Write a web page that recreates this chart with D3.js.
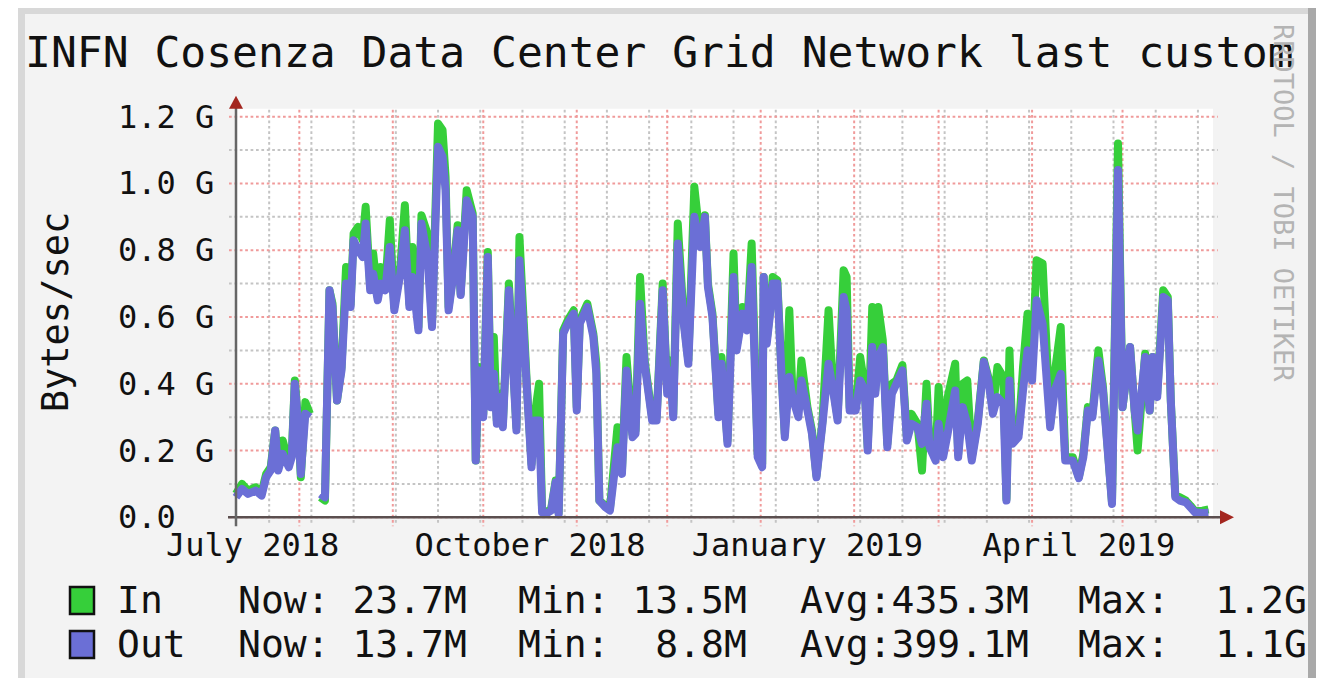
<!DOCTYPE html>
<html><head><meta charset="utf-8">
<script src="https://cdn.jsdelivr.net/npm/d3@7"></script>
<style>
html,body{margin:0;padding:0;background:#fff;}
svg{display:block;}
text{font-family:"DejaVu Sans Mono","Liberation Mono",monospace;}
</style>
</head><body>
<svg id="c" width="1329" height="678"></svg>
<script>
// ---------------- data ----------------
const title = "INFN Cosenza Data Center Grid Network last custom";
const yAxisTitle = "Bytes/sec";
const watermark = "RRDTOOL / TOBI OETIKER";

const dates = [
"2018-07-11 00","2018-07-13 00","2018-07-15 00","2018-07-17 12","2018-07-19 12","2018-07-21 00","2018-07-22 12","2018-07-24 00","2018-07-25 00","2018-07-26 12",
"2018-07-28 12","2018-07-29 12","2018-07-30 12","2018-07-31 12","2018-08-01 12","2018-08-03 00","2018-08-04 12","2018-08-06 12","2018-08-08 00","2018-08-09 12",
"2018-08-11 00","2018-08-12 00","2018-08-13 12","2018-08-15 00","2018-08-16 12","2018-08-18 00","2018-08-19 00","2018-08-20 12","2018-08-22 00","2018-08-23 00",
"2018-08-24 12","2018-08-25 12","2018-08-27 00","2018-08-28 00","2018-08-29 12","2018-08-31 00","2018-09-01 12","2018-09-03 12","2018-09-05 00","2018-09-06 12",
"2018-09-07 12","2018-09-09 12","2018-09-10 12","2018-09-12 12","2018-09-14 00","2018-09-16 00","2018-09-17 12","2018-09-18 12","2018-09-19 12","2018-09-21 00",
"2018-09-22 12","2018-09-23 12","2018-09-25 12","2018-09-27 12","2018-09-28 12","2018-09-29 12","2018-10-01 00","2018-10-02 12","2018-10-03 12","2018-10-04 12",
"2018-10-05 12","2018-10-06 12","2018-10-07 12","2018-10-09 12","2018-10-12 00","2018-10-13 00","2018-10-15 12","2018-10-17 00","2018-10-18 00","2018-10-19 12",
"2018-10-20 12","2018-10-22 00","2018-10-23 12","2018-10-25 00","2018-10-26 00","2018-10-27 12","2018-10-29 00","2018-10-31 00","2018-11-01 00","2018-11-02 00",
"2018-11-04 12","2018-11-06 12","2018-11-07 12","2018-11-08 12","2018-11-10 12","2018-11-12 00","2018-11-14 12","2018-11-16 00","2018-11-17 12","2018-11-19 12",
"2018-11-20 12","2018-11-22 00","2018-11-23 12","2018-11-26 00","2018-11-27 12","2018-11-29 12","2018-12-01 00","2018-12-02 00","2018-12-03 00","2018-12-04 12",
"2018-12-06 12","2018-12-08 00","2018-12-10 00","2018-12-12 00","2018-12-13 12","2018-12-14 12","2018-12-16 00","2018-12-18 00","2018-12-19 00","2018-12-21 00",
"2018-12-23 00","2018-12-24 00","2018-12-26 00","2018-12-27 12","2018-12-29 00","2018-12-31 00","2019-01-01 12","2019-01-02 00","2019-01-03 00","2019-01-04 00",
"2019-01-05 00","2019-01-06 12","2019-01-08 00","2019-01-09 00","2019-01-10 12","2019-01-11 12","2019-01-13 12","2019-01-14 12","2019-01-16 12","2019-01-18 00",
"2019-01-19 12","2019-01-21 12","2019-01-23 12","2019-01-25 00","2019-01-26 12","2019-01-28 12","2019-01-29 12","2019-01-30 12","2019-02-01 12","2019-02-03 00",
"2019-02-04 12","2019-02-05 12","2019-02-07 00","2019-02-08 00","2019-02-09 00","2019-02-10 12","2019-02-12 00","2019-02-13 12","2019-02-15 00","2019-02-17 00",
"2019-02-18 12","2019-02-20 00","2019-02-22 00","2019-02-23 12","2019-02-25 00","2019-02-26 00","2019-02-28 00","2019-03-01 00","2019-03-02 12","2019-03-04 00",
"2019-03-06 12","2019-03-07 12","2019-03-09 00","2019-03-10 12","2019-03-12 00","2019-03-14 00","2019-03-16 00","2019-03-17 12","2019-03-19 00","2019-03-20 12",
"2019-03-22 12","2019-03-23 12","2019-03-24 12","2019-03-25 12","2019-03-27 12","2019-03-29 00","2019-03-30 12","2019-04-01 00","2019-04-02 12","2019-04-04 12",
"2019-04-07 00","2019-04-08 12","2019-04-10 12","2019-04-12 00","2019-04-14 12","2019-04-16 12","2019-04-18 00","2019-04-19 12","2019-04-21 00","2019-04-23 00",
"2019-04-24 12","2019-04-27 12","2019-04-29 12","2019-05-01 00","2019-05-03 12","2019-05-05 00","2019-05-06 00","2019-05-08 12","2019-05-10 00","2019-05-11 00",
"2019-05-12 12","2019-05-14 12","2019-05-16 00","2019-05-17 00","2019-05-18 12","2019-05-20 00","2019-05-22 00","2019-05-23 12","2019-05-25 00","2019-05-27 12",
"2019-05-29 12"
];

// Gbytes/sec, null = unknown (gap)
const inValues = [
0.07,0.10,0.08,0.09,0.075,0.13,0.15,0.26,0.15,0.23,
0.16,0.19,0.41,0.30,0.12,0.345,0.31,null,0.06,0.05,
0.68,0.64,0.35,0.45,0.75,0.64,0.85,0.87,0.83,0.93,
0.69,0.79,0.66,0.75,0.69,0.89,0.63,0.75,0.935,0.64,
0.81,0.57,0.905,0.85,0.58,1.18,1.16,1.02,0.63,0.73,
0.875,0.67,0.98,0.91,0.17,0.45,0.31,0.795,0.34,0.54,
0.29,0.37,0.28,0.70,0.27,0.84,0.39,0.16,0.30,0.40,
0.022,0.016,0.025,0.11,0.0135,0.56,0.59,0.62,0.33,0.59,
0.64,0.55,0.46,0.05,0.035,0.025,0.27,0.14,0.48,0.25,
0.26,0.72,0.47,0.30,0.30,0.70,0.38,0.47,0.31,0.88,
0.59,0.47,0.99,0.82,0.905,0.70,0.61,0.31,0.48,0.23,
0.79,0.51,0.63,0.57,0.82,0.19,0.16,0.72,0.53,0.61,
0.72,0.71,0.42,0.25,0.62,0.38,0.33,0.47,0.33,0.26,
0.125,0.29,0.62,0.39,0.30,0.74,0.72,0.33,0.33,0.48,
0.39,0.21,0.63,0.38,0.63,0.53,0.22,0.40,0.41,0.456,
0.24,0.31,0.28,0.14,0.40,0.22,0.18,0.39,0.19,0.36,
0.46,0.19,0.40,0.41,0.18,0.29,0.47,0.42,0.32,0.45,
0.42,0.055,0.50,0.23,0.25,0.45,0.61,0.45,0.77,0.76,
0.28,0.43,0.57,0.18,0.18,0.12,0.19,0.33,0.31,0.50,
0.39,0.045,1.12,0.33,0.51,0.32,0.20,0.49,0.32,0.48,
0.37,0.68,0.66,0.35,0.065,0.06,0.05,0.035,0.018,0.02,
0.0237
];

const outValues = [
0.06,0.085,0.07,0.08,0.065,0.12,0.14,0.26,0.14,0.19,
0.15,0.18,0.40,0.29,0.13,0.31,0.30,null,0.07,0.06,
0.68,0.63,0.35,0.44,0.70,0.63,0.83,0.80,0.78,0.88,
0.68,0.73,0.65,0.70,0.68,0.81,0.62,0.73,0.86,0.63,
0.72,0.56,0.88,0.78,0.57,1.11,1.08,0.98,0.62,0.72,
0.86,0.666,0.95,0.90,0.17,0.44,0.30,0.78,0.33,0.43,
0.28,0.36,0.27,0.68,0.26,0.77,0.38,0.15,0.29,0.29,
0.015,0.012,0.02,0.105,0.0088,0.55,0.58,0.61,0.32,0.58,
0.63,0.54,0.43,0.05,0.03,0.02,0.21,0.13,0.44,0.24,
0.25,0.64,0.46,0.29,0.29,0.68,0.37,0.44,0.30,0.82,
0.58,0.46,0.90,0.81,0.90,0.69,0.60,0.30,0.46,0.22,
0.72,0.50,0.61,0.56,0.75,0.18,0.15,0.72,0.52,0.60,
0.70,0.70,0.41,0.24,0.42,0.36,0.30,0.41,0.32,0.25,
0.12,0.28,0.46,0.38,0.29,0.66,0.62,0.32,0.32,0.41,
0.38,0.20,0.51,0.37,0.48,0.51,0.21,0.37,0.40,0.44,
0.23,0.28,0.27,0.22,0.34,0.21,0.17,0.28,0.18,0.25,
0.38,0.18,0.33,0.28,0.17,0.28,0.466,0.41,0.31,0.36,
0.34,0.05,0.41,0.22,0.24,0.38,0.50,0.41,0.65,0.58,
0.27,0.38,0.43,0.17,0.17,0.117,0.18,0.32,0.30,0.47,
0.38,0.04,1.04,0.33,0.51,0.32,0.26,0.48,0.32,0.48,
0.36,0.66,0.65,0.35,0.06,0.05,0.045,0.03,0.015,0.013,
0.0137
];

const timeDomain = ["2018-07-11 00","2019-05-31 00"];
const yMax = 1.2;
const yMajorTicks = [0,0.2,0.4,0.6,0.8,1.0,1.2];
const yMinorTicks = [0.1,0.3,0.5,0.7,0.9,1.1];
const yTickLabels = ["0.0","0.2 G","0.4 G","0.6 G","0.8 G","1.0 G","1.2 G"];
const xLabels = ["July 2018","October 2018","January 2019","April 2019"];
const xLabelDates = ["2018-07-16 12","2018-10-16 12","2019-01-16 12","2019-04-16 12"];
const minorGridStart = "2018-07-22 00"; // fortnightly minor grid

const seriesNames = ["In","Out"];
const seriesColors = ["#36cf3a","#6b6fd6"];
const legendNow = ["Now: 23.7M","Now: 13.7M"];
const legendMin = ["Min: 13.5M","Min:  8.8M"];
const legendAvg = ["Avg:435.3M","Avg:399.1M"];
const legendMax = ["Max:  1.2G","Max:  1.1G"];

// ---------------- drawing ----------------
const parse = d3.utcParse("%Y-%m-%d %H");
const W = 1329, H = 678;
const svg = d3.select("#c");

// page + frame
svg.append("rect").attr("x",0).attr("y",0).attr("width",W).attr("height",H).attr("fill","#ffffff");
svg.append("rect").attr("x",18).attr("y",8).attr("width",1298).attr("height",H-8).attr("fill","#d8d8d8");
svg.append("rect").attr("x",1308).attr("y",8).attr("width",8).attr("height",H-8).attr("fill","#a9a9a9");
svg.append("rect").attr("x",25).attr("y",14).attr("width",1283).attr("height",H-14).attr("fill","#f3f3f3");

const plot = {left:236, right:1213, top:116.7, bottom:517.3};
const x = d3.scaleUtc().domain(timeDomain.map(parse)).range([plot.left, plot.right]);
const y = d3.scaleLinear().domain([0,yMax]).range([plot.bottom, plot.top]);

// canvas
svg.append("rect").attr("x",plot.left).attr("y",plot.top-8).attr("width",plot.right-plot.left).attr("height",plot.bottom-plot.top+8).attr("fill","#ffffff");

const gGrid = svg.append("g");
const dash = "2.7,2.7";
const minorColor = "#c4c4c4", majorColor = "#f09a9a";

// minor horizontal
gGrid.selectAll(".hmin").data(yMinorTicks).join("line")
  .attr("x1",plot.left-7).attr("x2",plot.right+5)
  .attr("y1",d=>y(d)).attr("y2",d=>y(d))
  .attr("stroke",minorColor).attr("stroke-width",2).attr("stroke-dasharray",dash);
// minor vertical
const minorDates = d3.utcDay.range(parse(minorGridStart), x.domain()[1], 14);
gGrid.selectAll(".vmin").data(minorDates).join("line")
  .attr("x1",d=>x(d)).attr("x2",d=>x(d))
  .attr("y1",plot.top-7).attr("y2",plot.bottom+6)
  .attr("stroke",minorColor).attr("stroke-width",2).attr("stroke-dasharray",dash);
// major horizontal
gGrid.selectAll(".hmaj").data(yMajorTicks).join("line")
  .attr("x1",plot.left-7).attr("x2",plot.right+5)
  .attr("y1",d=>y(d)).attr("y2",d=>y(d))
  .attr("stroke",majorColor).attr("stroke-width",2).attr("stroke-dasharray",dash);
// major vertical (months)
const monthDates = d3.utcMonth.range(x.domain()[0], x.domain()[1]);
gGrid.selectAll(".vmaj").data(monthDates).join("line")
  .attr("x1",d=>x(d)).attr("x2",d=>x(d))
  .attr("y1",plot.top-7).attr("y2",plot.bottom+9)
  .attr("stroke",majorColor).attr("stroke-width",2).attr("stroke-dasharray",dash);

// series
const pts = dates.map((d,i)=>({t:parse(d), vin:inValues[i], vout:outValues[i]}));
const mkLine = key => d3.line().defined(d=>d[key]!=null).x(d=>x(d.t)).y(d=>y(d[key]));
svg.append("path").datum(pts).attr("d",mkLine("vin"))
  .attr("fill","none").attr("stroke",seriesColors[0]).attr("stroke-width",8)
  .attr("stroke-linejoin","round").attr("stroke-linecap","butt");
svg.append("path").datum(pts).attr("d",mkLine("vout"))
  .attr("fill","none").attr("stroke",seriesColors[1]).attr("stroke-width",8)
  .attr("stroke-linejoin","round").attr("stroke-linecap","butt");

// axes
const axisColor = "#5b4f4f", arrowColor = "#a3261f";
svg.append("line").attr("x1",plot.left-8).attr("x2",plot.right+8).attr("y1",plot.bottom).attr("y2",plot.bottom)
  .attr("stroke",axisColor).attr("stroke-width",2.5);
svg.append("line").attr("x1",plot.left).attr("x2",plot.left).attr("y1",plot.bottom+9).attr("y2",plot.top-9)
  .attr("stroke","#666").attr("stroke-width",2.5);
svg.append("path").attr("d",`M${plot.right+7},${plot.bottom-7}L${plot.right+21},${plot.bottom}L${plot.right+7},${plot.bottom+7}Z`).attr("fill",arrowColor);
svg.append("path").attr("d",`M${plot.left-7},${plot.top-8}L${plot.left},${plot.top-21}L${plot.left+7},${plot.top-8}Z`).attr("fill",arrowColor);

// y tick labels
svg.selectAll(".ylab").data(yMajorTicks).join("text")
  .attr("x",118).attr("y",d=>y(d)+11)
  .attr("font-size",32).attr("fill","#111")
  .text((d,i)=>yTickLabels[i]);

// x labels
svg.selectAll(".xlab").data(xLabelDates).join("text")
  .attr("x",d=>x(parse(d))).attr("y",556).attr("text-anchor","middle")
  .attr("font-size",32).attr("fill","#111")
  .text((d,i)=>xLabels[i]);

// y axis title
svg.append("text").attr("transform","translate(68,312) rotate(-90)").attr("text-anchor","middle")
  .attr("font-size",37).attr("fill","#111").text(yAxisTitle);

// title
svg.append("text").attr("x",25).attr("y",67).attr("font-size",43).attr("fill","#111").text(title);

// watermark
svg.append("text").attr("transform","translate(1274,24) rotate(90)").attr("text-anchor","start")
  .attr("font-size",27).attr("fill","#b4b4b4").text(watermark);

// legend
const rowY = [613, 657];
seriesNames.forEach((n,i)=>{
  svg.append("rect").attr("x",70).attr("y",rowY[i]-26).attr("width",24).attr("height",27)
    .attr("fill",seriesColors[i]).attr("stroke","#111").attr("stroke-width",2.5);
  const parts = [[117,n],[238,legendNow[i]],[518,legendMin[i]],[800,legendAvg[i]],[1078,legendMax[i]]];
  parts.forEach(p=>{
    svg.append("text").attr("x",p[0]).attr("y",rowY[i]).attr("font-size",38).attr("fill","#111")
      .attr("xml:space","preserve").style("white-space","pre").text(p[1]);
  });
});
</script>
</body></html>
